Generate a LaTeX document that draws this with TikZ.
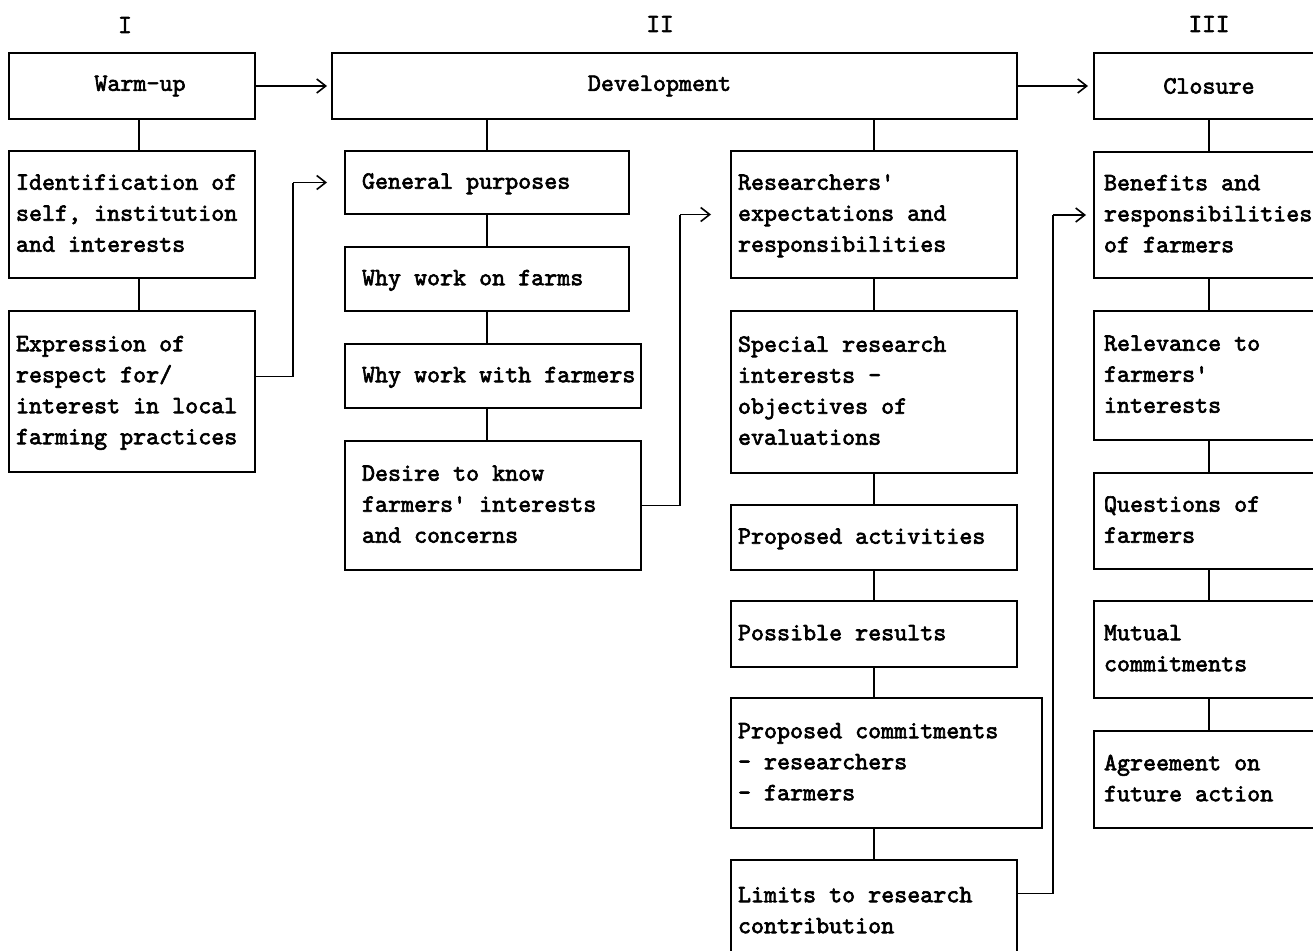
\documentclass[tikz,border=0pt]{standalone}
\usepackage{fontspec}
\newfontfamily\boxfont{lmmono10-regular.otf}[FakeBold=2.5]
\usetikzlibrary{arrows.meta}
\tikzset{
  box/.style={draw, line width=2pt, rectangle, inner ysep=0pt,
    font=\boxfont\fontsize{24.8}{31}\selectfont},
  lnk/.style={line width=1.5pt},
  arr/.style={line width=1.6pt, -{Straight Barb[length=9pt,width=14pt]}},
  num/.style={font=\boxfont\fontsize{26}{31}\selectfont, inner sep=0pt}
}
\newcommand\tbox[7]{%
  \node[box, minimum width=#4pt, minimum height=#5pt, inner xsep=#6pt, anchor=north west]
    (#1) at (#2,#3) {\makebox[\dimexpr #4pt - #6pt - #6pt\relax][l]{\begin{tabular}{@{}l@{}}#7\end{tabular}}};}
\begin{document}
\begin{tikzpicture}[x=1pt,y=-1pt]
\clip (0,0) rectangle (1313,950);
\fill[white] (0,0) rectangle (1313,950);

% phase numerals
\node[num] (n1) at (125,25) {I};
\node[num] (n2) at (660,24) {II};
\node[num] (n3) at (1209,24) {III};

% headers
\node[box, minimum width=246pt, minimum height=66pt, anchor=north west] (wu) at (8,52) {\hspace*{16pt}Warm-up};
\node[box, minimum width=685pt, minimum height=66pt, anchor=north west] (dev) at (331,52) {\hspace*{-30pt}Development};
\node[box, minimum width=230pt, minimum height=66pt, anchor=north west] (cl) at (1093,52) {Closure};

% column I
\tbox{id}{8}{150}{246}{127}{7}{Identification of\\self, institution\\and interests}
\tbox{ex}{8}{310}{246}{161}{7}{Expression of\\respect for/\\interest in local\\farming practices}

% column II-a
\tbox{gp}{344}{150}{284}{63}{17}{General purposes}
\tbox{wf}{344}{246}{284}{64}{17}{Why work on farms}
\tbox{ww}{344}{343}{296}{64}{17}{Why work with farmers}
\tbox{de}{344}{440}{296}{129}{17}{Desire to know\\farmers' interests\\and concerns}

% column II-b
\tbox{rs}{730}{150}{286}{127}{7}{Researchers'\\expectations and\\responsibilities}
\tbox{sp}{730}{310}{286}{162}{7}{Special research\\interests -\\objectives of\\evaluations}
\tbox{pa}{730}{504}{286}{65}{7}{Proposed activities}
\tbox{pr}{730}{600}{286}{66}{7}{Possible results}
\tbox{pc}{730}{697}{311}{130}{7}{Proposed commitments\\- researchers\\- farmers}
\tbox{li}{730}{859}{286}{103}{7}{Limits to research\\contribution}

% column III
\tbox{be}{1093}{151}{230}{126}{10}{Benefits and\\responsibilities\\of farmers}
\tbox{re}{1093}{310}{230}{129}{10}{Relevance to\\farmers'\\interests}
\tbox{qu}{1093}{472}{230}{96}{10}{Questions of\\farmers}
\tbox{mu}{1093}{600}{230}{97}{10}{Mutual\\commitments}
\tbox{ag}{1093}{730}{230}{97}{10}{Agreement on\\future action}

% vertical links
\draw[lnk] ([xshift=7pt]wu.south) -- ([xshift=7pt]wu.south |- id.north);
\draw[lnk] ([xshift=7pt]id.south) -- ([xshift=7pt]id.south |- ex.north);
\draw[lnk] (dev.south -| gp.north) -- (gp.north);
\draw[lnk] (dev.south -| rs.north) -- (rs.north);
\draw[lnk] (gp.south) -- (wf.north);
\draw[lnk] (wf.south) -- (wf.south |- ww.north);
\draw[lnk] (wf.south |- ww.south) -- (wf.south |- de.north);
\draw[lnk] (rs.south) -- (sp.north);
\draw[lnk] (sp.south) -- (pa.north);
\draw[lnk] (pa.south) -- (pr.north);
\draw[lnk] (pr.south) -- (pr.south |- pc.north);
\draw[lnk] (pr.south |- pc.south) -- (pr.south |- li.north);
\draw[lnk] (cl.south) -- (be.north);
\draw[lnk] (be.south) -- (re.north);
\draw[lnk] (re.south) -- (qu.north);
\draw[lnk] (qu.south) -- (mu.north);
\draw[lnk] (mu.south) -- (ag.north);

% arrows
\draw[arr, shorten >=4pt] (wu.east) -- (dev.west);
\draw[arr, shorten >=5pt] (dev.east) -- (cl.west);
\coordinate (j1) at (293,0);
\coordinate (j2) at (680,0);
\coordinate (j3) at (1053,0);
\draw[lnk] ([yshift=15pt]ex.east) -| (j1 |- gp.west);
\draw[arr] (j1 |- gp.west) -- ([xshift=-17pt]gp.west);
\draw[lnk] (de.east) -| (j2 |- rs.west);
\draw[arr] (j2 |- rs.west) -- ([xshift=-19pt]rs.west);
\draw[lnk] ([yshift=18pt]li.east) -| (j3 |- be.west);
\draw[arr] (j3 |- be.west) -- ([xshift=-7pt]be.west);
\end{tikzpicture}
\end{document}
